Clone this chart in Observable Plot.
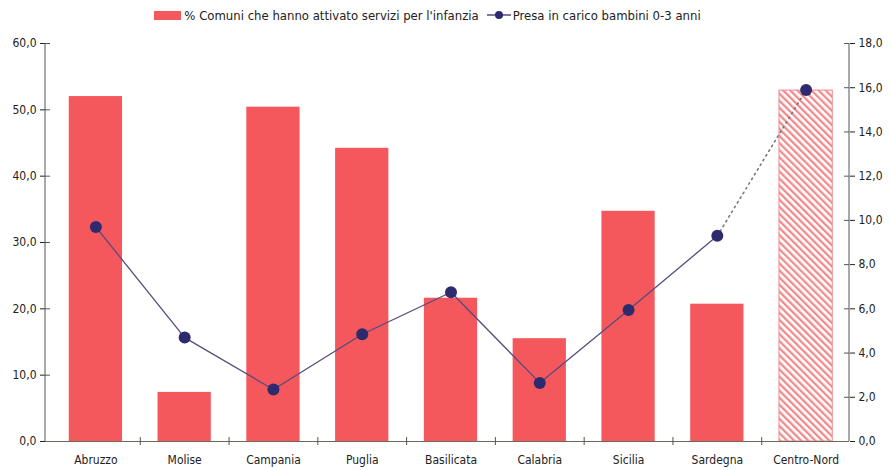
<!DOCTYPE html>
<html><head><meta charset="utf-8">
<script src="https://cdn.jsdelivr.net/npm/d3@7"></script>
<script src="https://cdn.jsdelivr.net/npm/@observablehq/plot@0.6"></script>
<style>
body{margin:0;background:#fff;font-family:"DejaVu Sans Condensed","DejaVu Sans",sans-serif;}
#legend{height:30px;display:flex;align-items:center;justify-content:center;font-size:13px;color:#222;padding-right:36px;box-sizing:border-box;}
#legend .sw{display:inline-block;width:27px;height:9px;background:#f4585c;margin-right:3px;}
#legend .item{display:flex;align-items:center;margin:0 3px;}
</style></head>
<body>
<div id="legend">
  <span class="item"><span class="sw"></span>% Comuni che hanno attivato servizi per l'infanzia</span>
  <span class="item"><svg width="28" height="12"><line x1="2" y1="6" x2="26" y2="6" stroke="#5a4a7a" stroke-width="1.5"/><circle cx="14" cy="6" r="4" fill="#2d2b6e"/></svg>Presa in carico bambini 0-3 anni</span>
</div>
<div id="chart"></div>
<script>
const regions = ["Abruzzo","Molise","Campania","Puglia","Basilicata","Calabria","Sicilia","Sardegna","Centro-Nord"];
const comuniPct = [52.0, 7.4, 50.4, 44.2, 21.6, 15.5, 34.7, 20.7, 52.9];
const presaInCarico = [9.7, 4.7, 2.35, 4.85, 6.75, 2.65, 5.95, 9.3, 15.9];
const leftTicks = [0,10,20,30,40,50,60];
const rightTicks = [0,2,4,6,8,10,12,14,16,18];

const ratio = 60/18;
const fmt = v => d3.format(".1f")(v).replace(".", ",");
const data = regions.map((r,i)=>({region:r, pct:comuniPct[i], presa:presaInCarico[i], i}));
const south = data.slice(0,8);
const lastTwo = data.slice(7);

const W = 891, H = 440, mL = 45, mR = 42, mT = 13, mB = 29;
const xRange = [51, 850];
const step = (xRange[1]-xRange[0]) / regions.length;
const inner = W - mL - mR;
const font = '"DejaVu Sans Condensed","DejaVu Sans",sans-serif';

const chart = Plot.plot({
  width: W, height: H,
  marginLeft: mL, marginRight: mR, marginTop: mT, marginBottom: mB,
  style: {fontFamily: font, fontSize: "12px", color: "#222", background: "#fff"},
  x: {domain: regions, range: xRange, paddingInner: 0.4, paddingOuter: 0.2, round: false},
  y: {domain: [0, 60]},
  marks: [
    Plot.barY(data.slice(0,8), {x: "region", y: "pct", fill: "#f4585c"}),
    Plot.barY(data.slice(8), {x: "region", y: "pct", fill: "url(#hatch)", stroke: "#f08a8c", strokeWidth: 1}),
    Plot.axisY({ticks: leftTicks, tickFormat: fmt, anchor: "left", tickSize: 5, tickPadding: 4, label: null, fontSize: 12}),
    Plot.ruleY(leftTicks, {y: d=>d, insetRight: inner - 5, stroke: "#555"}),
    Plot.axisY({ticks: rightTicks.map(v=>v*ratio), tickFormat: d => fmt(d/ratio), anchor: "right", tickSize: 5, tickPadding: 4, label: null, fontSize: 12}),
    Plot.ruleY(rightTicks, {y: d=>d*ratio, insetLeft: inner - 5, stroke: "#555"}),
    Plot.axisX({tickSize: 0, tickPadding: 14, label: null, fontSize: 12}),
    Plot.ruleY([0], {stroke: "#6b6b55", strokeWidth: 1.2}),
    Plot.ruleX(regions.slice(1), {x: d=>d, dx: -step/2, y1: 0, y2: 0, insetTop: -4, insetBottom: -4, stroke: "#555"}),
    Plot.lineY(south, {x: "region", y: d => d.presa*ratio, stroke: "#5a4a7a", strokeWidth: 1.3}),
    Plot.lineY(lastTwo, {x: "region", y: d => d.presa*ratio, stroke: "#777", strokeWidth: 1.6, strokeDasharray: "1.5,4", strokeLinecap: "round"}),
    Plot.dot(data, {x: "region", y: d => d.presa*ratio, r: 6, fill: "#2d2b6e"})
  ]
});

const svg = d3.select(chart);
const defs = svg.insert("defs", ":first-child");
const pat = defs.append("pattern").attr("id","hatch").attr("patternUnits","userSpaceOnUse")
  .attr("width",5).attr("height",5).attr("patternTransform","rotate(-45)");
pat.append("rect").attr("width",5).attr("height",5).attr("fill","#fff");
pat.append("rect").attr("width",2.3).attr("height",5).attr("fill","#f28a8c");
svg.append("line").attr("x1",mL).attr("x2",mL).attr("y1",mT).attr("y2",H-mB).attr("stroke","#555");
svg.append("line").attr("x1",W-mR).attr("x2",W-mR).attr("y1",mT).attr("y2",H-mB).attr("stroke","#555");
document.getElementById("chart").appendChild(chart);
</script>
</body></html>
